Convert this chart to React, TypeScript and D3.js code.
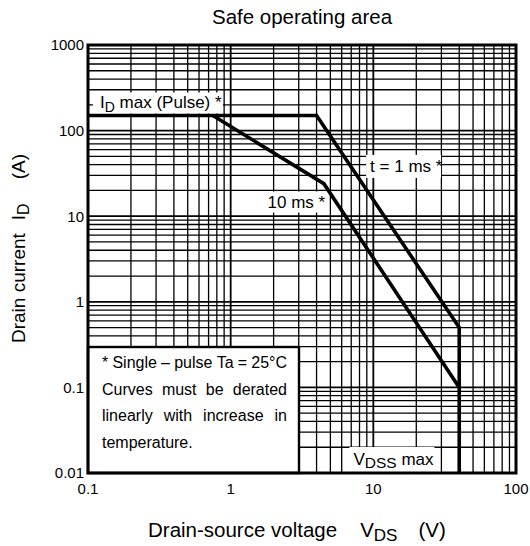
import React, { useEffect, useRef } from 'react';
import * as d3 from 'd3';

// axis ticks
const xTicks = [0.1, 1, 10, 100];
const xTickLabels = ['0.1', '1', '10', '100'];
const yTicks = [0.01, 0.1, 1, 10, 100, 1000];
const yTickLabels = ['0.01', '0.1', '1', '10', '100', '1000'];

// SOA boundary vertices (V, A)
const pulse1msV = [0.1, 4, 40, 40];
const pulse1msI = [150, 150, 0.5, 0.01];
const pulse10msV = [0.75, 4.5, 40];
const pulse10msI = [150, 24, 0.1];

const noteLines = [
    '* Single \u2013 pulse Ta = 25\u00b0C',
    'Curves must be derated',
    'linearly with increase in',
    'temperature.',
];

const FONT = '"Liberation Sans", Arial, Helvetica, sans-serif';

const App: React.FC = () => {
    const chartRef = useRef<SVGSVGElement | null>(null);

    useEffect(() => {
        if (!chartRef.current) return;
        const width = 530;
        const height = 546;

        d3.select(chartRef.current).selectAll('*').remove();

        const svg = d3.select(chartRef.current)
            .attr('width', width)
            .attr('height', height)
            .style('font-family', FONT);

        const x = d3.scaleLog().domain([0.1, 100]).range([88, 516]);
        const y = d3.scaleLog().domain([0.01, 1000]).range([473, 45]);

        const isDecade = (v: number) => Math.abs(Math.log10(v) - Math.round(Math.log10(v))) < 1e-9;

        // grid
        const grid = svg.append('g');
        grid.selectAll('line.vx')
            .data(x.ticks())
            .enter()
            .append('line')
            .attr('x1', d => x(d)).attr('x2', d => x(d))
            .attr('y1', y(1000)).attr('y2', y(0.01))
            .attr('stroke', '#000')
            .attr('stroke-width', d => isDecade(d) ? 1.8 : 1.3);
        grid.selectAll('line.hy')
            .data(y.ticks())
            .enter()
            .append('line')
            .attr('y1', d => y(d)).attr('y2', d => y(d))
            .attr('x1', x(0.1)).attr('x2', x(100))
            .attr('stroke', '#000')
            .attr('stroke-width', d => isDecade(d) ? 1.8 : 1.3);

        // white label backgrounds
        const bg = svg.append('g').attr('fill', '#fff');
        bg.append('rect').attr('x', x(0.1) + 5).attr('y', y(150) - 23).attr('width', 130).attr('height', 21);
        bg.append('rect').attr('x', x(8.9)).attr('y', y(52)).attr('width', 75).attr('height', 23);
        bg.append('rect').attr('x', x(1.7)).attr('y', y(19.4)).attr('width', 62).attr('height', 21);
        bg.append('rect').attr('x', x(6.8)).attr('y', y(0.01) - 26).attr('width', 85).attr('height', 26);

        // curves
        const line = d3.line<[number, number]>().x(d => x(d[0])).y(d => y(d[1]));
        const curves = svg.append('g')
            .attr('fill', 'none')
            .attr('stroke', '#000')
            .attr('stroke-width', 3.6)
            .attr('stroke-linejoin', 'miter');
        curves.append('path').attr('d', line(pulse1msV.map((v, i) => [v, pulse1msI[i]] as [number, number])));
        curves.append('path').attr('d', line(pulse10msV.map((v, i) => [v, pulse10msI[i]] as [number, number])));

        // curve labels
        const labels = svg.append('g').style('font-size', '17px').attr('fill', '#000');
        const idLab = labels.append('text').attr('x', x(0.1) + 12).attr('y', y(150) - 8);
        idLab.append('tspan').text('I');
        idLab.append('tspan').attr('dy', 4).style('font-size', '14px').text('D');
        idLab.append('tspan').attr('dy', -4).text(' max (Pulse) *');
        labels.append('text').attr('x', x(8.9) + 4).attr('y', y(52) + 17).text('t = 1 ms *');
        labels.append('text').attr('x', x(1.7) + 4).attr('y', y(19.4) + 16).text('10 ms *');
        const vd = labels.append('text').attr('x', x(6.8) + 4).attr('y', y(0.01) - 8);
        vd.append('tspan').text('V');
        vd.append('tspan').attr('dy', 3).style('font-size', '15.5px').text('DSS');
        vd.append('tspan').attr('dy', -3).text(' max');

        // note box
        const note = svg.append('g');
        note.append('rect')
            .attr('x', x(0.1)).attr('y', 347)
            .attr('width', 211).attr('height', y(0.01) - 347)
            .attr('fill', '#fff').attr('stroke', '#000').attr('stroke-width', 2.4);
        const left = 102;
        const right = 287;
        noteLines.forEach((ln, i) => {
            const words = ln.split(' ');
            const baseline = 368 + i * 26.7;
            const t = note.append('text')
                .attr('y', baseline)
                .style('font-size', '16px');
            const spans = words.map(w => t.append('tspan').attr('x', 0).text(w));
            const widths = spans.map(s => (s.node() as SVGTSpanElement).getComputedTextLength());
            const total = d3.sum(widths);
            const justify = i < noteLines.length - 1 && words.length > 1;
            const gap = justify ? (right - left - total) / (words.length - 1) : 4.5;
            let cx = left;
            spans.forEach((s, j) => {
                s.attr('x', cx);
                cx += widths[j] + gap;
            });
        });

        // frame
        svg.append('rect')
            .attr('x', x(0.1)).attr('y', y(1000))
            .attr('width', x(100) - x(0.1)).attr('height', y(0.01) - y(1000))
            .attr('fill', 'none').attr('stroke', '#000').attr('stroke-width', 3);

        // tick labels
        svg.append('g').selectAll('text')
            .data(xTicks)
            .enter()
            .append('text')
            .attr('x', d => x(d))
            .attr('y', 494)
            .attr('text-anchor', 'middle')
            .style('font-size', '15px')
            .text((d, i) => xTickLabels[i]);
        svg.append('g').selectAll('text')
            .data(yTicks)
            .enter()
            .append('text')
            .attr('x', 84)
            .attr('y', d => y(d))
            .attr('dy', '0.36em')
            .attr('text-anchor', 'end')
            .style('font-size', '15px')
            .text((d, i) => yTickLabels[i]);

        // title
        svg.append('text')
            .attr('x', (x(0.1) + x(100)) / 2)
            .attr('y', 24)
            .attr('text-anchor', 'middle')
            .style('font-size', '20.5px')
            .text('Safe operating area');

        // x axis title
        const xt = svg.append('text')
            .attr('x', 148)
            .attr('y', 537)
            .style('font-size', '20.5px');
        xt.append('tspan').text('Drain-source voltage');
        xt.append('tspan').attr('dx', 23).text('V');
        xt.append('tspan').attr('dy', 4).style('font-size', '17px').text('DS');
        xt.append('tspan').attr('dx', 21).attr('dy', -4).text('(V)');

        // y axis title
        const yt = svg.append('text')
            .attr('transform', 'translate(25,343) rotate(-90)')
            .style('font-size', '19px');
        yt.append('tspan').text('Drain current');
        yt.append('tspan').attr('dx', 13).text('I');
        yt.append('tspan').attr('dy', 4).style('font-size', '16px').text('D');
        yt.append('tspan').attr('dx', 24).attr('dy', -4).text('(A)');
    }, []);

    return (
        <div style={{ position: 'absolute', left: 0, top: 0 }}>
            <svg ref={chartRef} style={{ display: 'block' }} />
        </div>
    );
};

export default App;
